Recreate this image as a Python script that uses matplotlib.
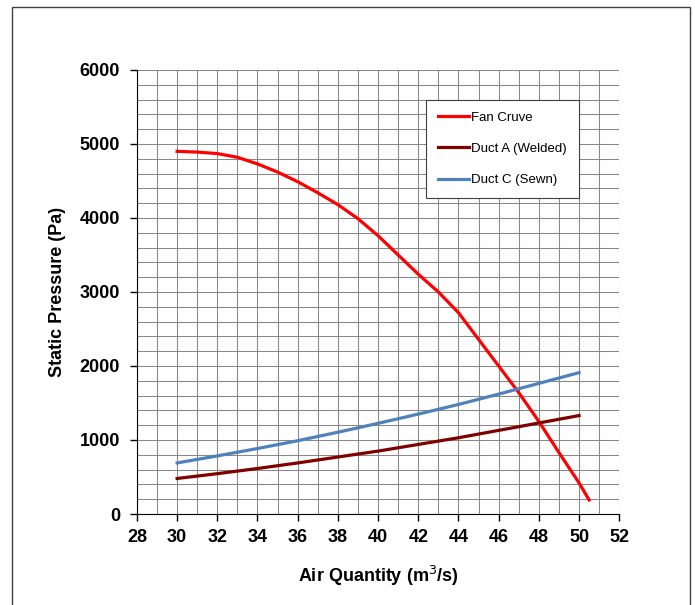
import matplotlib.pyplot as plt
from matplotlib.patches import Rectangle
from matplotlib.ticker import MultipleLocator

plt.rcParams['font.family'] = ['Liberation Sans', 'DejaVu Sans']

# fan curve
fan_q = [30, 31, 32, 33, 34, 35, 36, 37, 38, 39, 40, 41, 42, 43, 44, 45, 46, 47, 48, 49, 50, 50.5]
fan_p = [4900, 4890, 4870, 4820, 4730, 4620, 4490, 4340, 4180, 3990, 3760, 3500, 3240,
         3000, 2720, 2360, 2000, 1640, 1250, 830, 420, 190]

# duct curves
duct_q = [30, 32, 34, 36, 38, 40, 42, 44, 46, 48, 50]
duct_a = [480, 545, 615, 690, 770, 850, 940, 1030, 1130, 1230, 1330]
duct_c = [690, 785, 885, 990, 1105, 1225, 1350, 1480, 1620, 1765, 1910]

fig = plt.figure(figsize=(6.95, 6.05), dpi=100)
ax = fig.add_axes([0.197, 0.1504, 0.694, 0.734])

ax.plot(fan_q, fan_p, color='#FF0000', lw=2.3, label='Fan Cruve', zorder=3)
ax.plot(duct_q, duct_a, color='#800000', lw=2.3, label='Duct A (Welded)', zorder=3)
ax.plot(duct_q, duct_c, color='#4F81BD', lw=2.3, label='Duct C (Sewn)', zorder=3)

ax.set_xlim(28, 52)
ax.set_ylim(0, 6000)
ax.xaxis.set_major_locator(MultipleLocator(2))
ax.xaxis.set_minor_locator(MultipleLocator(1))
ax.yaxis.set_major_locator(MultipleLocator(1000))
ax.yaxis.set_minor_locator(MultipleLocator(200))
ax.grid(which='both', color='#888888', lw=0.75)
ax.set_axisbelow(True)
ax.tick_params(which='major', direction='out', length=5, width=1, labelsize=13)
ax.tick_params(axis='x', which='major', pad=6)
ax.tick_params(axis='y', which='major', pad=7)
ax.tick_params(which='minor', length=0)
for lab in ax.get_xticklabels() + ax.get_yticklabels():
    lab.set_fontweight('bold')

for s in ['top', 'right']:
    ax.spines[s].set_visible(False)
ax.spines['left'].set_color('black')
ax.spines['bottom'].set_color('black')

ax.set_xlabel('Air Quantity (m$^3$/s)', fontsize=13, fontweight='bold', labelpad=13)
ax.set_ylabel('Static Pressure (Pa)', fontsize=13, fontweight='bold', labelpad=10)

leg = ax.legend(loc='upper right', bbox_to_anchor=(0.93, 0.948), fontsize=9.5,
                frameon=True, fancybox=False, edgecolor='#404040', framealpha=1,
                labelspacing=1.45, handlelength=2.4, handletextpad=0.15, borderpad=0.9)
leg.get_frame().set_linewidth(0.8)

# outer chart frame
fig.patches.append(Rectangle((12 / 695, -0.01), 678 / 695, (598 / 605) + 0.01,
                             transform=fig.transFigure, fill=False,
                             edgecolor='#404040', lw=1))

plt.savefig('out.png', dpi=100)
